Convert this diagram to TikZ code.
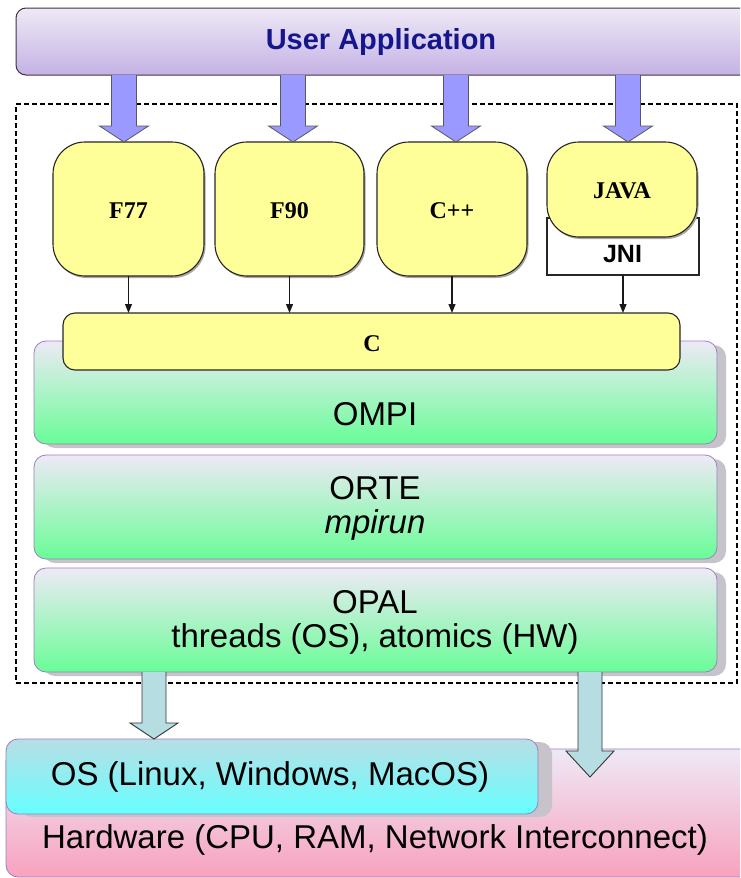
\documentclass[tikz,border=0pt]{standalone}
\usepackage{fontspec}
\setmainfont{Liberation Sans}
\newfontfamily\langfont{Liberation Serif}
\usetikzlibrary{calc,shadows,arrows.meta}
\definecolor{langyellow}{HTML}{FFFF99}
\definecolor{lav}{HTML}{EEE9F6}
\definecolor{uabottom}{HTML}{C4B2E4}
\definecolor{uablue}{HTML}{16168C}
\definecolor{layergreen}{HTML}{69FD97}
\definecolor{layerline}{HTML}{9A80C0}
\definecolor{arrowblue}{HTML}{9999FF}
\definecolor{arrowteal}{HTML}{B6DDE2}
\definecolor{ostop}{HTML}{B8DEE4}
\definecolor{osbottom}{HTML}{66FFFF}
\definecolor{hwbottom}{HTML}{F8A2BE}
\definecolor{shadowgray}{HTML}{C6C4CA}
\newcommand\bx[7]{\node[#6, minimum width={(#4)-(#2)}, minimum height={(#5)-(#3)}] (#1) at ({((#2)+(#4))/2},{((#3)+(#5))/2}) {#7};}
\newcommand\fatarrow[6]{%
  \filldraw[#1] let \p1=(#2), \p2=(#3) in
  (\x2+#4pt,\y1) -- (\x2+#4pt,\y2+#6pt) -- (\x2+#5pt,\y2+#6pt) -- (\x2,\y2)
  -- (\x2-#5pt,\y2+#6pt) -- (\x2-#4pt,\y2+#6pt) -- (\x2-#4pt,\y1);}
\begin{document}
\begin{tikzpicture}[x=1pt,y=-1pt,
  base/.style={rectangle, inner sep=0pt, outer sep=0pt},
  layer/.style={base, rounded corners=12pt, draw=layerline, line width=0.8pt,
     top color=lav, bottom color=layergreen,
     general shadow={shadow xshift=9pt, shadow yshift=-4pt, fill=shadowgray}},
  langbox/.style={base, rounded corners=32pt, draw=black!85, line width=1.1pt, fill=langyellow,
     general shadow={shadow xshift=1.5pt, shadow yshift=-2pt, fill=black!35}},
  langtext/.style={font=\langfont\bfseries\fontsize{24}{25}\selectfont},
  laytext/.style={font=\fontsize{33}{36}\selectfont},
  small arrow/.style={draw=black!90, line width=1.1pt, -{Triangle[length=9pt,width=7pt]}},
  bluearrow/.style={fill=arrowblue, draw=black!65, line width=0.8pt},
  tealarrow/.style={fill=arrowteal, draw=black!80, line width=0.9pt},
  framebox/.style={base, draw=black, dash pattern=on 5pt off 3pt, line width=1.3pt},
]
\useasboundingbox (0,0) rectangle (740,878);
\clip (0,0) rectangle (740,878);

% hardware and OS
\bx{hw}{6}{749}{770}{877}{base, rounded corners=12pt, draw=layerline, line width=0.8pt, top color=lav, bottom color=hwbottom}{}
\bx{os}{6}{739}{538}{814}{base, rounded corners=12pt, draw=layerline, line width=0.8pt, top color=ostop, bottom color=osbottom,
     general shadow={shadow xshift=14pt, shadow yshift=-3pt, fill=shadowgray}}{}
\node[laytext] (ost) at (270,777) {OS (Linux, Windows, MacOS)};
\node[laytext] (hwt) at (375,840) {Hardware (CPU, RAM, Network Interconnect)};

% dashed frame
\bx{frame}{16}{104}{737}{683}{framebox}{}

% layers
\bx{opal}{34}{568}{717}{672}{layer}{}
\bx{orte}{34}{455}{717}{559}{layer}{}
\bx{ompi}{34}{341}{717}{444}{layer}{}
\node[laytext] (ompit) at (375,414) {OMPI};
\node[laytext] (ortet) at (375,488) {ORTE};
\node[laytext, font=\itshape\fontsize{33}{36}\selectfont] (mpirunt) at (375,525) {mpirun};
\node[laytext] (opalt) at (375,602) {OPAL};
\node[laytext] (threadst) at (375,639) {threads (OS), atomics (HW)};

% teal arrows
\coordinate (t1) at (154,739);
\coordinate (t2) at (590,777);
\fatarrow{tealarrow}{opal.south}{t1}{12}{24}{16}
\fatarrow{tealarrow}{opal.south}{t2}{12}{24}{26}

% C box
\bx{cbox}{63}{313}{680}{370}{base, rounded corners=12pt, draw=black!85, line width=1.1pt, fill=langyellow}{}
\node[langtext] (ct) at (372,344) {C};

% language boxes
\bx{jni}{547}{218}{699}{275}{base, draw=black!85, line width=1.1pt, fill=white}{}
\node[font=\bfseries\fontsize{25}{26}\selectfont] (jnit) at (622.5,254) {JNI};
\bx{f77}{53}{142}{204}{276}{langbox}{}
\bx{f90}{215}{142}{364}{276}{langbox}{}
\bx{cpp}{377}{142}{527}{276}{langbox}{}
\bx{java}{547}{142}{697}{237}{langbox}{}
\node[langtext] (f77t) at (128.5,211) {F77};
\node[langtext] (f90t) at (289.5,211) {F90};
\node[langtext] (cppt) at (452,211) {C++};
\node[langtext] (javat) at (622,191) {JAVA};

% small arrows to C
\draw[small arrow] (f77.south) -- (f77.south |- cbox.north);
\draw[small arrow] (f90.south) -- (f90.south |- cbox.north);
\draw[small arrow] (cpp.south) -- (cpp.south |- cbox.north);
\draw[small arrow] (jni.south) -- (jni.south |- cbox.north);

% blue arrows
\coordinate (b1) at (124,142);
\coordinate (b2) at (293,142);
\coordinate (b3) at (456,142);
\coordinate (b4) at (628,142);
\bx{ua}{16}{8}{770}{75}{base, rounded corners=10pt, draw=black!70!uabottom, line width=1pt, top color=lav, bottom color=uabottom}{}
\fatarrow{bluearrow}{ua.south}{b1}{12.5}{24.5}{16}
\fatarrow{bluearrow}{ua.south}{b2}{12.5}{24.5}{16}
\fatarrow{bluearrow}{ua.south}{b3}{12.5}{24.5}{16}
\fatarrow{bluearrow}{ua.south}{b4}{12.5}{24.5}{16}
\node[font=\bfseries\fontsize{29}{30}\selectfont, text=uablue] (uat) at (381,42) {User Application};
\end{tikzpicture}
\end{document}
